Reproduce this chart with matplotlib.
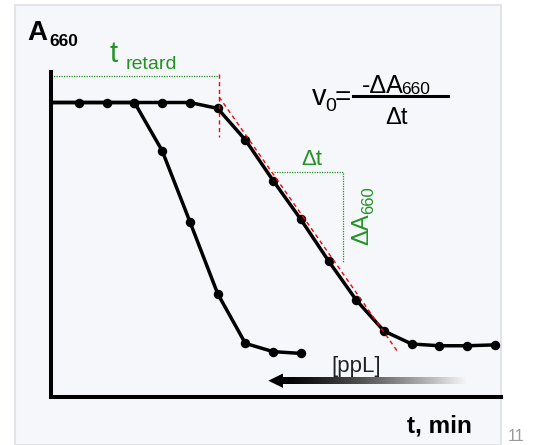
import numpy as np
import matplotlib.pyplot as plt
from matplotlib.patches import Rectangle, Polygon
from matplotlib.colors import LinearSegmentedColormap

plt.rcParams['font.family'] = ['Liberation Sans', 'DejaVu Sans']

# readings, one per minute; the line starts at the axis (t = 0)
t_fast = np.arange(0, 10)
a_fast = [1.00, 1.00, 1.00, 1.00, 0.836, 0.595, 0.351, 0.182, 0.154, 0.148]
t_slow = np.arange(0, 17)
a_slow = [1.00, 1.00, 1.00, 1.00, 1.00, 1.00, 0.980, 0.873, 0.735, 0.603,
          0.462, 0.329, 0.224, 0.180, 0.174, 0.174, 0.177]

# tangent to the slow curve and the lag time
tan_t = [6.05, 12.50]
tan_a = [1.019, 0.153]
t_retard = 6.05
retard_a = [1.097, 0.883]
retard_level = 1.089
# slope triangle (dt, dA)
tri_t = [8.03, 10.51]
tri_a = [0.765, 0.454]

GREEN = '#229322'
W, H = 539, 445


def fpos(x, y):
    # pixel position -> figure fraction
    return x / W, 1 - y / H


fig = plt.figure(figsize=(W / 100, H / 100), dpi=100)
fig.patches.append(Rectangle((15 / W, 0), 486 / W, 440 / H, transform=fig.transFigure,
                             facecolor='#f5f7fb', edgecolor='#e2e4e8', lw=1.5, zorder=-5))

ax = fig.add_axes([51.3 / W, (H - 397) / H, (501 - 51.3) / W, (397 - 72) / H])
ax.patch.set_visible(False)
ax.set_xlim(0, 16.22)
ax.set_ylim(0, 1.1036)
for s in ['top', 'right']:
    ax.spines[s].set_visible(False)
for s in ['left', 'bottom']:
    ax.spines[s].set_linewidth(2.9)
ax.set_xticks([])
ax.set_yticks([])

ax.plot(t_fast, a_fast, color='k', lw=2.5, marker='o', ms=5.8,
        markevery=list(range(3, 10)), solid_joinstyle='round', zorder=2, clip_on=False)
ax.plot(t_slow, a_slow, color='k', lw=2.5, marker='o', ms=5.8,
        markevery=list(range(1, 17)), solid_joinstyle='round', zorder=2, clip_on=False)

ax.plot(tan_t, tan_a, color='red', lw=1.0, dashes=(3, 2.5), zorder=3)
ax.plot([t_retard, t_retard], retard_a, color='red', lw=1.0, dashes=(3, 2.5), zorder=3)
ax.plot([0, t_retard], [retard_level, retard_level], color=GREEN, lw=0.9,
        ls=(0, (1, 1)), zorder=1)
ax.plot([tri_t[0], tri_t[1], tri_t[1]], [tri_a[0], tri_a[0], tri_a[1]], color=GREEN,
        lw=0.9, ls=(0, (1, 1)), zorder=1)

# axis labels
fig.text(*fpos(27, 40), 'A', fontsize=20, fontweight='bold', va='baseline')
fig.text(*fpos(49, 46.5), '660', fontsize=12.5, fontweight='bold', va='baseline')
fig.text(*fpos(407, 433), 't, min', fontsize=17.5, fontweight='bold', va='baseline')

# lag time label
fig.text(*fpos(109, 62.5), 't', fontsize=21, color=GREEN, va='baseline')
fig.text(*fpos(126, 69.3), 'retard', fontsize=14, color=GREEN, va='baseline')

# rate formula
fig.text(*fpos(312, 105), 'v', fontsize=21, va='baseline')
fig.text(*fpos(325.5, 111), '0', fontsize=14, va='baseline')
fig.text(*fpos(335, 105), '=', fontsize=20, va='baseline')
fig.text(*fpos(362, 93.3), '-\u0394A', fontsize=18, va='baseline')
fig.text(*fpos(401, 93.5), '660', fontsize=12.5, va='baseline')
fig.text(*fpos(396.5, 124.3), '\u0394t', fontsize=17, va='baseline', ha='center')
fig.add_artist(plt.Line2D([353 / W, 448 / W], [1 - 96 / H, 1 - 96 / H], color='k', lw=2.2))

# slope triangle labels
fig.text(*fpos(311.5, 165), '\u0394t', fontsize=16, color=GREEN, va='baseline', ha='center')
fig.text(*fpos(368, 245), '\u0394A', fontsize=17, color=GREEN, va='baseline', ha='left',
         rotation=90, rotation_mode='anchor')
fig.text(*fpos(373, 214), '660', fontsize=12, color=GREEN, va='baseline', ha='left',
         rotation=90, rotation_mode='anchor')

# concentration arrow
ov = fig.add_axes([0, 0, 1, 1], zorder=5)
ov.set_xlim(0, W)
ov.set_ylim(H, 0)
ov.axis('off')
fade = LinearSegmentedColormap.from_list('fade', ['#000000', '#f8f8f8'])
grad = np.linspace(0, 1, 256)[None, :] ** 1.3
ov.imshow(grad, extent=[281, 468, 384.0, 377.4], cmap=fade, aspect='auto', interpolation='bilinear')
ov.add_patch(Polygon([(268.3, 380.7), (283, 373.5), (283, 387.9)], closed=True,
                     facecolor='k', edgecolor='none'))
ov.set_xlim(0, W)
ov.set_ylim(H, 0)
fig.text(*fpos(356, 372), '[ppL]', fontsize=16, color='#222222', va='baseline', ha='center')

# slide number
fig.text(*fpos(508, 441), '11', fontsize=11.5, color='#9a9a9a', va='baseline')

fig.savefig('out.png', dpi=100)
